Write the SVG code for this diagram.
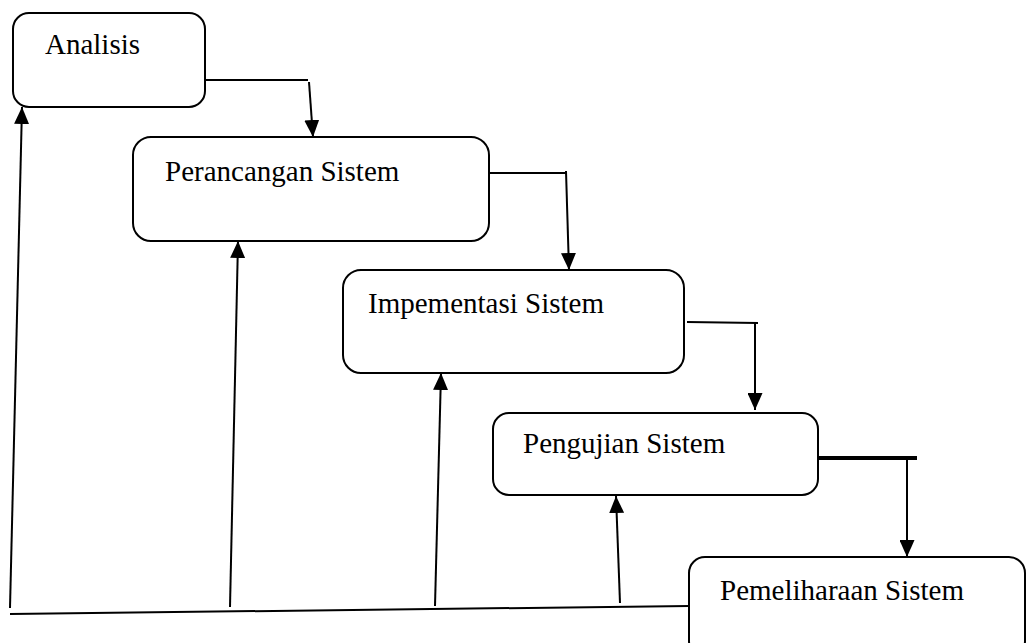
<svg xmlns="http://www.w3.org/2000/svg" width="1026" height="643" viewBox="0 0 1026 643">
<style>
.box{fill:#fff;stroke:#000;stroke-width:2}
.lbl{font-family:"Liberation Serif","Times New Roman",serif;font-size:29px;fill:#000}
.ln{stroke:#000;stroke-width:2;fill:none}
</style>
<defs>
<marker id="ah" markerWidth="17" markerHeight="15" refX="17" refY="7.5" orient="auto" markerUnits="userSpaceOnUse">
<path d="M0,0 L17,7.5 L0,15 Z" fill="#000"/>
</marker>
</defs>
<rect width="1026" height="643" fill="#fff"/>
<g id="n-analisis"><rect class="box" x="13" y="13" width="192" height="94" rx="16"/><text class="lbl" x="45" y="54">Analisis</text></g>
<g id="n-perancangan"><rect class="box" x="133" y="137" width="356" height="104" rx="18"/><text class="lbl" x="165" y="181">Perancangan Sistem</text></g>
<g id="n-implementasi"><rect class="box" x="343" y="270" width="341" height="103" rx="18"/><text class="lbl" x="368" y="313">Impementasi Sistem</text></g>
<g id="n-pengujian"><rect class="box" x="493" y="413" width="325" height="82" rx="16"/><text class="lbl" x="523" y="453">Pengujian Sistem</text></g>
<g id="n-pemeliharaan"><rect class="box" x="689" y="557" width="336" height="100" rx="16"/><text class="lbl" x="720" y="600">Pemeliharaan Sistem</text></g>
<g id="connectors">
<polyline class="ln" points="205,80 308,80"/>
<line class="ln" x1="309" y1="82" x2="313" y2="137" marker-end="url(#ah)"/>
<polyline class="ln" points="489,173 566,173"/>
<line class="ln" x1="566" y1="171" x2="569" y2="270" marker-end="url(#ah)"/>
<polyline class="ln" points="687,322 758,323"/>
<line class="ln" x1="755" y1="323" x2="755" y2="410" marker-end="url(#ah)"/>
<line x1="818" y1="458" x2="917" y2="458" stroke="#000" stroke-width="4"/>
<line class="ln" x1="907" y1="459" x2="907" y2="557" marker-end="url(#ah)"/>
<line class="ln" x1="10" y1="614" x2="689" y2="606"/>
<line class="ln" x1="10" y1="608" x2="22" y2="107" marker-end="url(#ah)"/>
<line class="ln" x1="230" y1="607" x2="238" y2="241" marker-end="url(#ah)"/>
<line class="ln" x1="435" y1="606" x2="441" y2="373" marker-end="url(#ah)"/>
<line class="ln" x1="620" y1="603" x2="616" y2="496" marker-end="url(#ah)"/>
</g>
</svg>
